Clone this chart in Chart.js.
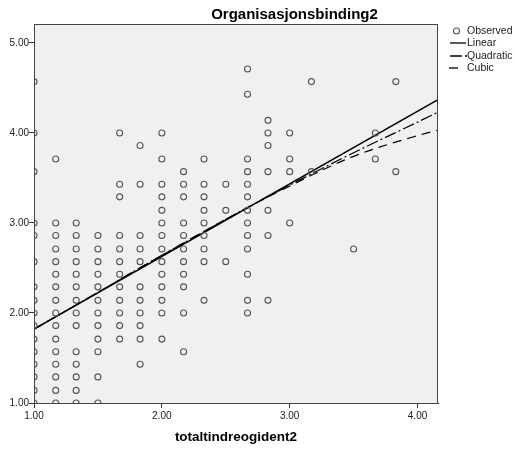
<!DOCTYPE html>
<html><head><meta charset="utf-8">
<script src="https://cdn.jsdelivr.net/npm/chart.js@4.4.1/dist/chart.umd.min.js"></script>
<style>html,body{margin:0;padding:0;background:#fff;} canvas{display:block;}</style>
</head><body>
<canvas id="c" width="515" height="450"></canvas>
<script>
const chartTitle = 'Organisasjonsbinding2';
const xAxisTitle = 'totaltindreogident2';
const xTicks = [1, 2, 3, 4];
const yTicks = [1, 2, 3, 4, 5];
const xRange = [1.00, 4.16];
const yRange = [1.00, 5.21];

// Observed: x levels and the y values seen at each level
const xLevels = [1.00, 1.17, 1.33, 1.50, 1.67, 1.83, 2.00, 2.17, 2.33, 2.50, 2.67, 2.83, 3.00, 3.17, 3.50, 3.67, 3.83];
const yAtLevel = [
  [1.00,1.14,1.29,1.43,1.57,1.71,1.86,2.00,2.14,2.29,2.57,2.86,3.00,3.57,4.00,4.57],
  [1.00,1.14,1.29,1.43,1.57,1.71,1.86,2.00,2.14,2.29,2.43,2.57,2.71,2.86,3.00,3.71],
  [1.00,1.14,1.29,1.43,1.57,1.86,2.00,2.14,2.29,2.43,2.57,2.71,2.86,3.00],
  [1.00,1.29,1.57,1.71,1.86,2.00,2.14,2.29,2.43,2.57,2.71,2.86],
  [1.71,1.86,2.00,2.14,2.29,2.43,2.57,2.71,2.86,3.29,3.43,4.00],
  [1.43,1.71,1.86,2.00,2.14,2.29,2.57,2.71,2.86,3.43,3.86],
  [1.71,2.00,2.14,2.29,2.43,2.57,2.71,2.86,3.00,3.14,3.29,3.43,3.71,4.00],
  [1.57,2.00,2.29,2.43,2.57,2.71,2.86,3.00,3.29,3.43,3.57],
  [2.14,2.57,2.71,2.86,3.00,3.14,3.29,3.43,3.71],
  [2.57,3.14,3.43],
  [2.00,2.14,2.43,2.71,2.86,3.00,3.14,3.29,3.43,3.57,3.71,4.43,4.71],
  [2.14,2.86,3.14,3.57,3.86,4.00,4.14],
  [3.00,3.57,3.71,4.00],
  [3.57,4.57],
  [2.71],
  [3.71,4.00],
  [3.57,4.57]
];

// Fitted curves
const linearX = [1.00, 4.16];
const linearY = [1.82, 4.37];
const quadX = [1.00, 1.50, 2.00, 2.50, 3.00, 3.50, 4.00, 4.16];
const quadY = [1.82, 2.23, 2.64, 3.04, 3.42, 3.78, 4.12, 4.23];
const cubicX = [1.00, 1.50, 2.00, 2.50, 3.00, 3.50, 4.00, 4.16];
const cubicY = [1.82, 2.23, 2.64, 3.04, 3.41, 3.74, 3.97, 4.03];

const legendLabels = ['Observed', 'Linear', 'Quadratic', 'Cubic'];

const FONT = "'Liberation Sans', Arial, sans-serif";
const toXY = (xs, ys) => xs.map((x, i) => ({x: x, y: ys[i]}));
const observed = [];
xLevels.forEach((x, i) => yAtLevel[i].forEach(y => observed.push({x: x, y: y})));

const quadDash = [12, 3, 2, 3];
const cubicDash = [9, 6];

const decor = {
  id: 'decor',
  beforeDraw(chart) {
    const ctx = chart.ctx, a = chart.chartArea;
    ctx.save();
    ctx.fillStyle = '#ffffff';
    ctx.fillRect(0, 0, chart.width, chart.height);
    ctx.fillStyle = '#f0f0f0';
    ctx.fillRect(a.left, a.top, a.right - a.left, a.bottom - a.top);
    ctx.restore();
  },
  afterDraw(chart) {
    const ctx = chart.ctx, a = chart.chartArea;
    ctx.save();
    ctx.strokeStyle = '#444';
    ctx.lineWidth = 1;
    ctx.strokeRect(a.left + 0.5, a.top + 0.5, a.right - a.left - 1, a.bottom - a.top);
    // titles
    ctx.fillStyle = '#000';
    ctx.textAlign = 'center';
    ctx.textBaseline = 'alphabetic';
    ctx.font = 'bold 15px ' + FONT;
    ctx.fillText(chartTitle, 294.5, 18.5);
    ctx.font = 'bold 13.5px ' + FONT;
    ctx.fillText(xAxisTitle, (a.left + a.right) / 2, 441);
    // legend
    const rows = [31, 43, 56, 68];
    ctx.font = '10.5px ' + FONT;
    ctx.textAlign = 'left';
    ctx.textBaseline = 'middle';
    ctx.fillStyle = '#222';
    legendLabels.forEach((t, i) => ctx.fillText(t, 467, rows[i] + 0.5));
    ctx.strokeStyle = '#555';
    ctx.lineWidth = 1.1;
    ctx.beginPath(); ctx.arc(456.5, rows[0], 3, 0, Math.PI * 2); ctx.stroke();
    ctx.strokeStyle = '#000';
    ctx.lineWidth = 1.3;
    ctx.beginPath(); ctx.moveTo(450, rows[1]); ctx.lineTo(466, rows[1]); ctx.stroke();
    ctx.setLineDash(quadDash);
    ctx.beginPath(); ctx.moveTo(450, rows[2]); ctx.lineTo(468, rows[2]); ctx.stroke();
    ctx.setLineDash([]);
    ctx.beginPath(); ctx.moveTo(449, rows[3]); ctx.lineTo(458, rows[3]); ctx.stroke();
    ctx.restore();
  }
};

const tickFn = v => Number(v).toFixed(2);

new Chart(document.getElementById('c'), {
  type: 'scatter',
  data: {
    datasets: [
      { label: 'Observed', data: observed, showLine: false, pointStyle: 'circle', pointRadius: 3,
        pointBorderWidth: 1.1, pointBorderColor: '#555', pointBackgroundColor: 'rgba(0,0,0,0)', clip: 0 },
      { label: 'Linear', type: 'line', data: toXY(linearX, linearY), borderColor: '#000', borderWidth: 1.5,
        pointRadius: 0, fill: false, clip: 0 },
      { label: 'Quadratic', type: 'line', data: toXY(quadX, quadY), borderColor: '#000', borderWidth: 1.2,
        borderDash: quadDash, pointRadius: 0, fill: false, cubicInterpolationMode: 'monotone', clip: 0 },
      { label: 'Cubic', type: 'line', data: toXY(cubicX, cubicY), borderColor: '#000', borderWidth: 1.2,
        borderDash: cubicDash, pointRadius: 0, fill: false, cubicInterpolationMode: 'monotone', clip: 0 }
    ]
  },
  options: {
    responsive: false,
    animation: false,
    devicePixelRatio: 1,
    layout: { padding: { top: 24, right: 77, left: 0, bottom: 0 } },
    plugins: { legend: { display: false }, title: { display: false }, tooltip: { enabled: false } },
    scales: {
      x: {
        type: 'linear', min: xRange[0], max: xRange[1],
        afterFit(s) { s.height = 47; },
        afterBuildTicks(s) { s.ticks = xTicks.map(v => ({ value: v })); },
        ticks: { callback: tickFn, font: { family: FONT, size: 10 }, color: '#222', padding: 2, maxRotation: 0 },
        grid: { drawOnChartArea: false, drawTicks: true, tickLength: 5, color: '#333', tickWidth: 1 },
        border: { display: true, color: '#333', width: 1 }
      },
      y: {
        type: 'linear', min: yRange[0], max: yRange[1],
        afterFit(s) { s.width = 34; },
        afterBuildTicks(s) { s.ticks = yTicks.map(v => ({ value: v })); },
        ticks: { callback: tickFn, font: { family: FONT, size: 10 }, color: '#222', padding: 0 },
        grid: { drawOnChartArea: false, drawTicks: true, tickLength: 5, color: '#333', tickWidth: 1 },
        border: { display: true, color: '#333', width: 1 }
      }
    }
  },
  plugins: [decor]
});
</script>
</body></html>
